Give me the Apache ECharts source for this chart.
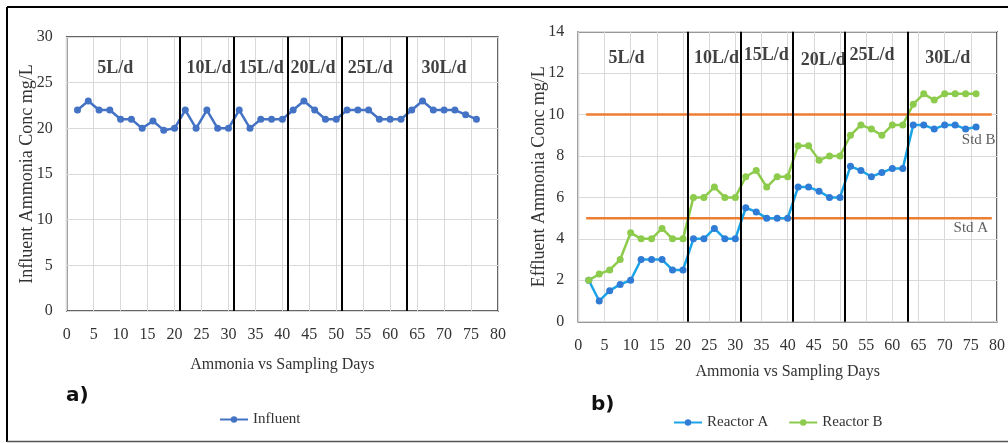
<!DOCTYPE html>
<html>
<head>
<meta charset="utf-8">
<script src="https://cdn.jsdelivr.net/npm/echarts@6/dist/echarts.min.js"></script>
<style>
  html, body { margin: 0; padding: 0; background: #fff; }
  #chart { width: 1008px; height: 443px; }
</style>
</head>
<body>
<div id="chart"></div>
<script>
// sampling days (every 2nd day)
let days = [2,4,6,8,10,12,14,16,18,20,22,24,26,28,30,32,34,36,38,40,
            42,44,46,48,50,52,54,56,58,60,62,64,66,68,70,72,74,76];
let influent = [22,23,22,22,21,21,20,20.8,19.8,20,22,20,22,20,20,22,20,21,21,21,
                22,23,22,21,21,22,22,22,21,21,21,22,23,22,22,22,21.5,21];
let reactorA = [2,1,1.5,1.8,2,3,3,3,2.5,2.5,4,4,4.5,4,4,5.5,5.3,5,5,5,
                6.5,6.5,6.3,6,6,7.5,7.3,7,7.2,7.4,7.4,9.5,9.5,9.3,9.5,9.5,9.3,9.4];
let reactorB = [2,2.3,2.5,3,4.3,4,4,4.5,4,4,6,6,6.5,6,6,7,7.3,6.5,7,7,
                8.5,8.5,7.8,8,8,9,9.5,9.3,9,9.5,9.5,10.5,11,10.7,11,11,11,11];
// flow rate changes (day) and labels
let phaseBounds = [21,31,41,51,63];
let phaseNames = ['5L/d','10L/d','15L/d','20L/d','25L/d','30L/d'];
let phaseXLeft = [9,26.4,36.1,45.7,56.3,70];
let phaseYLeft = [26.6,26.6,26.6,26.6,26.6,26.6];
let phaseXRight = [9.2,26.4,35.9,46.8,56.1,70.6];
let phaseYRight = [12.73,12.73,12.87,12.63,12.87,12.73];
// discharge standards
let stdNames = ['Std A','Std B'];
let stdValues = [5,10];
let stdLabelX = [75,76.5];
let stdLabelY = [4.5,8.77];

let serif = 'Liberation Serif';
let axisTxt = {fontFamily: serif, fontSize: 16, color: '#333'};

function zip(xs, ys){
  return xs.map((x,i)=>[x, ys[i]]);
}
function phaseLabels(xs, ys, idx){
  return {
    type: 'scatter', xAxisIndex: idx, yAxisIndex: idx,
    symbolSize: 0, silent: true,
    label: {show: true, position: 'inside', formatter: '{b}',
            fontFamily: serif, fontSize: 18, fontWeight: 'bold', color: '#111'},
    data: phaseNames.map((n,i)=>({name: n, value: [xs[i], ys[i]]}))
  };
}
let bounds = {
  silent: true, symbol: ['none','none'],
  label: {show: false},
  lineStyle: {color: '#000', width: 2, type: 'solid'},
  data: phaseBounds.map(v=>({xAxis: v}))
};

function xAx(idx){
  return {
    gridIndex: idx, type: 'value', min: 0, max: 80, interval: 5,
    name: 'Ammonia vs Sampling Days', nameLocation: 'middle', nameGap: idx ? 42 : 46,
    nameMoveOverlap: false,
    nameTextStyle: {fontFamily: serif, fontSize: 16, color: '#333'},
    axisLine: {show: false}, axisTick: {show: false},
    axisLabel: Object.assign({margin: 16}, axisTxt),
    splitLine: {lineStyle: {color: '#d9d9d9'}}
  };
}
function yAx(idx, max, step, name){
  return {
    gridIndex: idx, type: 'value', min: 0, max: max, interval: step,
    name: name, nameLocation: 'middle', nameGap: 30,
    nameMoveOverlap: false,
    nameTextStyle: {fontFamily: serif, fontSize: 18, color: '#333'},
    axisLine: {show: false}, axisTick: {show: false},
    axisLabel: Object.assign({margin: 14}, axisTxt),
    splitLine: {lineStyle: {color: '#d9d9d9'}}
  };
}

let option = {
  animation: false,
  backgroundColor: '#fff',
  grid: [
    {left: 66.7, top: 37, width: 431.3, height: 274, show: true, borderColor: '#333', borderWidth: 1.5},
    {left: 578.3, top: 31.7, width: 420, height: 290, show: true, borderColor: '#333', borderWidth: 1.5}
  ],
  xAxis: [xAx(0), xAx(1)],
  yAxis: [
    yAx(0, 30, 5, 'Influent Ammonia Conc mg/L'),
    yAx(1, 14, 2, 'Effluent Ammonia Conc mg/L')
  ],
  legend: [
    {data: ['Influent'], left: 214, top: 407, itemWidth: 28, itemHeight: 8, itemGap: 4,
     textStyle: {fontFamily: serif, fontSize: 15, color: '#333'}},
    {data: ['Reactor A','Reactor B'], left: 668, top: 410, itemWidth: 28, itemHeight: 8, itemGap: 20,
     textStyle: {fontFamily: serif, fontSize: 15, color: '#333'}}
  ],
  graphic: [
    {type: 'line', shape: {x1: 7, y1: 7, x2: 1008, y2: 7}, style: {stroke: '#000', lineWidth: 2}},
    {type: 'line', shape: {x1: 7, y1: 7, x2: 7, y2: 442}, style: {stroke: '#000', lineWidth: 2}},
    {type: 'line', shape: {x1: 7, y1: 441.5, x2: 1008, y2: 441.5}, style: {stroke: '#555', lineWidth: 1.5}},
    {type: 'text', left: 66, top: 386, style: {text: 'a)', font: 'bold 20px "DejaVu Sans"', fill: '#111'}},
    {type: 'text', left: 591, top: 395, style: {text: 'b)', font: 'bold 20px "DejaVu Sans"', fill: '#111'}}
  ],
  series: [
    {name: 'Influent', type: 'line', xAxisIndex: 0, yAxisIndex: 0,
     symbol: 'circle', symbolSize: 7,
     lineStyle: {color: '#4472C4', width: 2.5}, itemStyle: {color: '#4472C4'},
     data: zip(days, influent), markLine: bounds},
    phaseLabels(phaseXLeft, phaseYLeft, 0),
    {name: 'Std', type: 'line', xAxisIndex: 1, yAxisIndex: 1, symbol: 'none', silent: true,
     lineStyle: {color: '#ED7D31', width: 2.5}, itemStyle: {color: '#ED7D31'},
     data: [[1.5, stdValues[0]], [79, stdValues[0]]]},
    {name: 'Std2', type: 'line', xAxisIndex: 1, yAxisIndex: 1, symbol: 'none', silent: true,
     lineStyle: {color: '#ED7D31', width: 2.5}, itemStyle: {color: '#ED7D31'},
     data: [[1.5, stdValues[1]], [79, stdValues[1]]]},
    {name: 'Reactor A', type: 'line', xAxisIndex: 1, yAxisIndex: 1,
     symbol: 'circle', symbolSize: 7,
     lineStyle: {color: '#1AA3E6', width: 2.5}, itemStyle: {color: '#2F7BD6'},
     data: zip(days, reactorA), markLine: bounds},
    {name: 'Reactor B', type: 'line', xAxisIndex: 1, yAxisIndex: 1,
     symbol: 'circle', symbolSize: 7,
     lineStyle: {color: '#8CCB4B', width: 2.5}, itemStyle: {color: '#8CCB4B'},
     data: zip(days, reactorB)},
    phaseLabels(phaseXRight, phaseYRight, 1),
    {type: 'scatter', xAxisIndex: 1, yAxisIndex: 1, symbolSize: 0, silent: true,
     label: {show: true, position: 'inside', formatter: '{b}',
             fontFamily: serif, fontSize: 15, color: '#333'},
     data: stdNames.map((n,i)=>({name: n, value: [stdLabelX[i], stdLabelY[i]]}))}
  ]
};

let myChart = echarts.init(document.getElementById('chart'));
myChart.setOption(option);
</script>
</body>
</html>
